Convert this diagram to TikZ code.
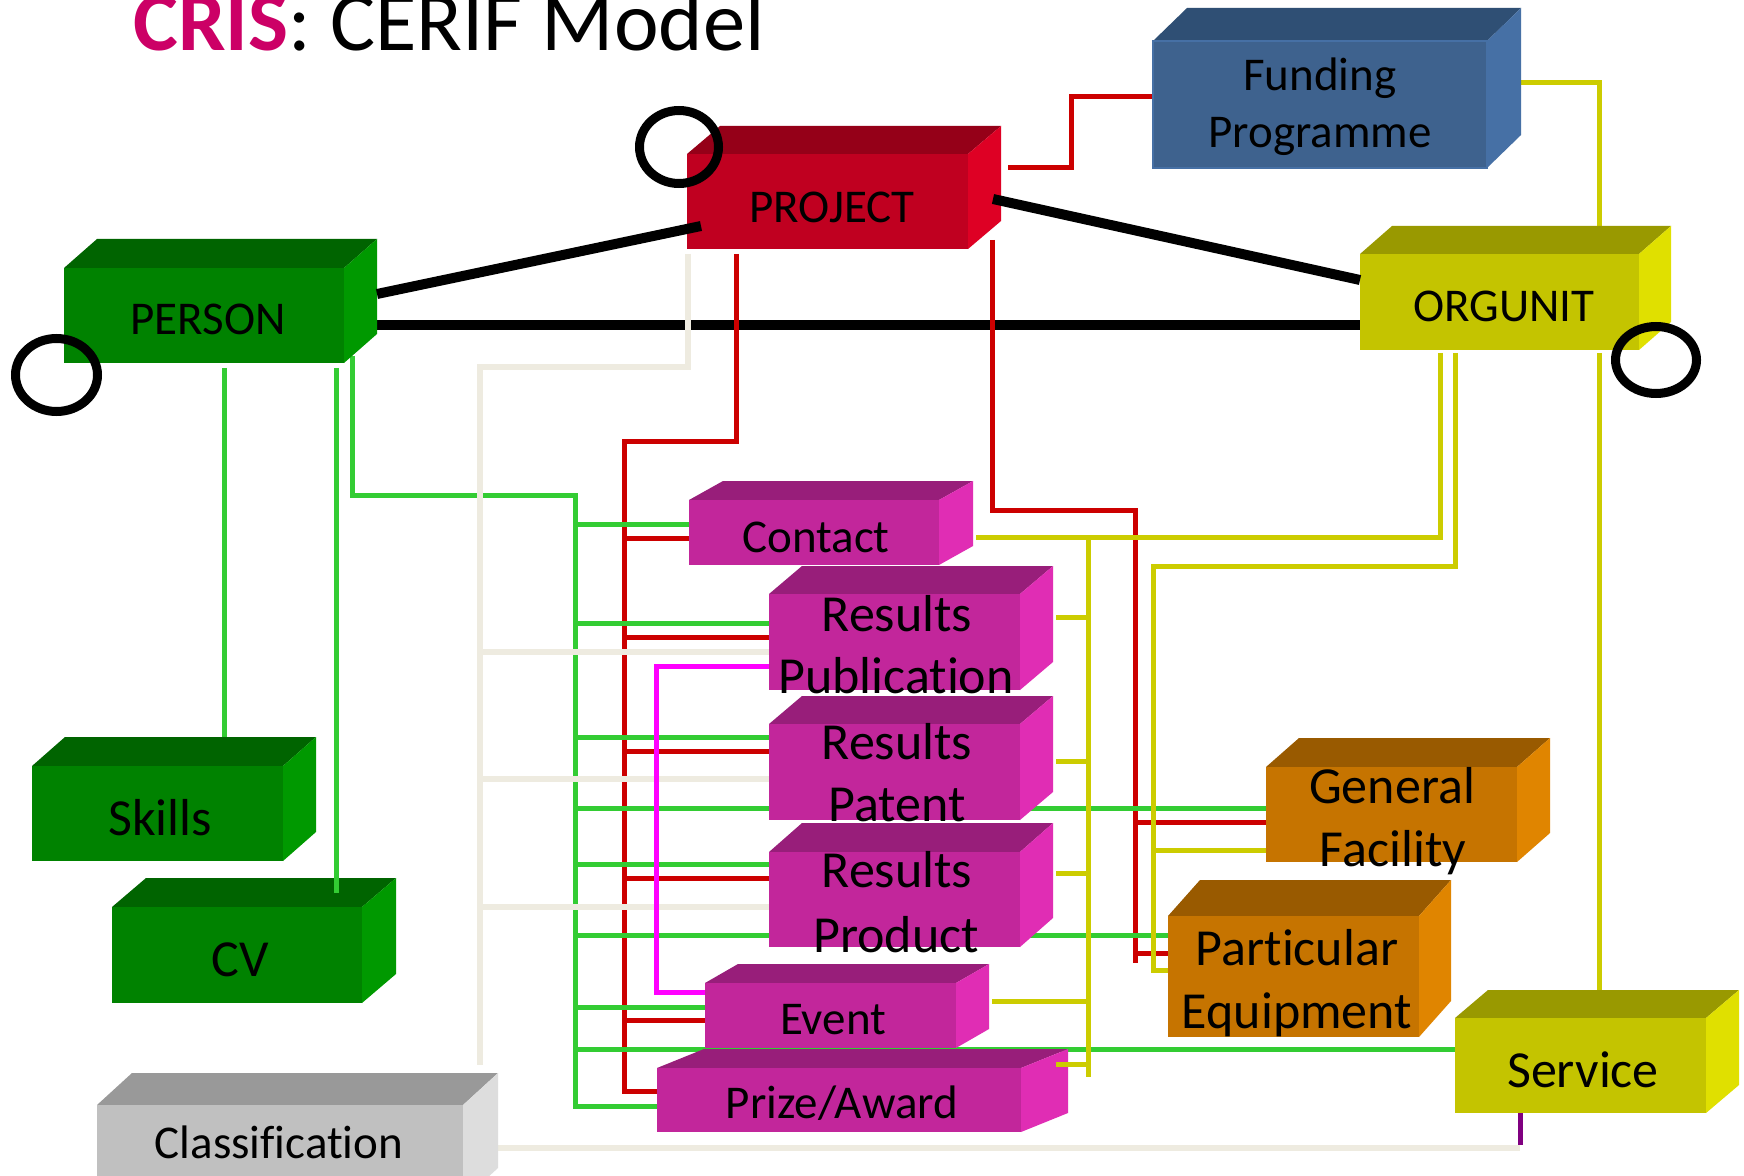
\documentclass[tikz,border=0pt]{standalone}
\usepackage{fontspec}
\setmainfont{Carlito}[Ligatures=NoCommon]
\usetikzlibrary{fit}
\definecolor{crisc}{RGB}{204,0,102}
\definecolor{projF}{RGB}{192,0,32}\definecolor{projT}{RGB}{149,0,24}\definecolor{projS}{RGB}{222,0,36}
\definecolor{grnF}{RGB}{0,130,0}\definecolor{grnT}{RGB}{0,100,0}\definecolor{grnS}{RGB}{0,153,0}
\definecolor{yelF}{RGB}{196,196,0}\definecolor{yelT}{RGB}{153,153,0}\definecolor{yelS}{RGB}{224,224,0}
\definecolor{funF}{RGB}{62,98,142}\definecolor{funT}{RGB}{47,79,116}\definecolor{funS}{RGB}{70,112,165}
\definecolor{magF}{RGB}{194,38,155}\definecolor{magT}{RGB}{152,30,122}\definecolor{magS}{RGB}{224,45,180}
\definecolor{orgF}{RGB}{198,116,0}\definecolor{orgT}{RGB}{153,90,0}\definecolor{orgS}{RGB}{224,133,0}
\definecolor{gryF}{RGB}{192,192,192}\definecolor{gryT}{RGB}{153,153,153}\definecolor{gryS}{RGB}{221,221,221}
\definecolor{lred}{RGB}{204,0,0}
\definecolor{lgreen}{RGB}{51,204,51}
\definecolor{lbeige}{RGB}{238,235,224}
\definecolor{lyellow}{RGB}{204,204,0}
\definecolor{lmag}{RGB}{255,0,255}
\definecolor{lpurple}{RGB}{128,0,128}
% #1 name, #2 colour prefix, #3 x1, #4 y1, #5 x2, #6 y2, #7 dx, #8 dy
\newcommand\cuboid[8]{%
  \fill[#2T] (#3,#4) -- (#3+#7,#4-#8) -- (#5+#7,#4-#8) -- (#5,#4) -- cycle;
  \fill[#2S] (#5,#4) -- (#5+#7,#4-#8) -- (#5+#7,#6-#8) -- (#5,#6) -- cycle;
  \fill[#2F] (#3,#4) rectangle (#5,#6);
  \node[fit={(#3,#4) (#5,#6)}, inner sep=0pt, outer sep=0pt] (#1) {};
}
\begin{document}
\begin{tikzpicture}[x=0.5pt,y=-0.5pt,
  lbl/.style={anchor=base, inner sep=0pt, font=\fontsize{23.5}{28}\selectfont},
  lblb/.style={anchor=base, inner sep=0pt, font=\fontsize{26}{31}\selectfont},
  rl/.style={draw=lred, line width=2.5pt},
  gl/.style={draw=lgreen, line width=2.5pt},
  bl/.style={draw=lbeige, line width=3pt},
  yl/.style={draw=lyellow, line width=2.5pt},
  ml/.style={draw=lmag, line width=2.5pt},
  pl/.style={draw=lpurple, line width=2.5pt},
  kl/.style={draw=black, line width=5pt},
  circ/.style={draw=black, line width=4.5pt}]
\useasboundingbox (0,0) rectangle (1744,1176);
\fill[white] (0,0) rectangle (1744,1176);

% title
\node[anchor=base west, inner sep=0pt, font=\fontsize{42.3}{50}\selectfont] (title) at (133,51)
  {\textcolor{crisc}{\bfseries CRIS}: CERIF Model};

% black PERSON -- ORGUNIT
\draw[kl] (377,325) -- (1360,325);

% red connectors
\draw[rl] (1008,168) -- (1071,168) -- (1071,97) -- (1153,97);
\draw[rl] (992,240) -- (992,510) -- (1135,510) -- (1135,963);
\draw[rl] (1135,822) -- (1266,822);
\draw[rl] (1135,953) -- (1168,953);
\draw[rl] (736,254) -- (736,441) -- (624,441) -- (624,1091) -- (657,1091);
\draw[rl] (624,538) -- (689,538);
\draw[rl] (624,637) -- (769,637);
\draw[rl] (624,751) -- (769,751);
\draw[rl] (624,878) -- (769,878);
\draw[rl] (624,1020) -- (705,1020);

% green connectors
\draw[gl] (224,368) -- (224,737);
\draw[gl] (352,356) -- (352,495) -- (575,495) -- (575,1106) -- (657,1106);
\draw[gl] (575,524) -- (689,524);
\draw[gl] (575,623) -- (769,623);
\draw[gl] (575,737) -- (769,737);
\draw[gl] (575,808) -- (1266,808);
\draw[gl] (575,864) -- (769,864);
\draw[gl] (575,935) -- (1168,935);
\draw[gl] (575,1007) -- (705,1007);
\draw[gl] (575,1049) -- (1455,1049);

% beige connectors
\draw[bl] (688,254) -- (688,367) -- (480,367) -- (480,1065);
\draw[bl] (480,652) -- (769,652);
\draw[bl] (480,779) -- (769,779);
\draw[bl] (480,907) -- (769,907);
\draw[bl] (498,1148) -- (1520,1148);
\draw[pl] (1520,1113) -- (1520,1145);

% magenta connector
\draw[ml] (769,666) -- (656,666) -- (656,992) -- (705,992);

% yellow connectors
\draw[yl] (1521,83) -- (1599,83) -- (1599,226);
\draw[yl] (1440,353) -- (1440,537) -- (976,537);
\draw[yl] (1088,537) -- (1088,1077);
\draw[yl] (1088,617) -- (1056,617);
\draw[yl] (1088,761) -- (1056,761);
\draw[yl] (1088,873) -- (1056,873);
\draw[yl] (1088,1001) -- (992,1001);
\draw[yl] (1455,353) -- (1455,566) -- (1153,566) -- (1153,970) -- (1168,970);
\draw[yl] (1153,850) -- (1266,850);
\draw[yl] (1599,353) -- (1599,992);

% boxes
\cuboid{person}{grn}{64}{268}{344}{363}{33}{29}
\node[lbl] (t-person) at (208,335) {PERSON};
\cuboid{project}{proj}{687}{154}{968}{249}{33}{28}
\node[lbl] (t-project) at (832,223) {PROJECT};
\cuboid{orgunit}{yel}{1360}{254}{1639}{350}{32}{28}
\node[lbl] (t-orgunit) at (1504,322) {ORGUNIT};
\cuboid{funding}{fun}{1153}{41}{1487}{168}{34}{33}
\draw[funS, line width=0.6pt] (1153,41) rectangle (1487,168);
\node[lbl] (t-fund1) at (1320,91) {Funding};
\node[lbl] (t-fund2) at (1320,148) {Programme};
\cuboid{contact}{mag}{689}{500}{939}{565}{34}{19}
\node[lbl] (t-contact) at (816,552) {Contact};
\cuboid{respub}{mag}{769}{594}{1020}{690}{33}{28}
\node[lblb] (t-pub1) at (897,631) {Results};
\node[lblb] (t-pub2) at (896,693) {Publication};
\cuboid{respat}{mag}{769}{724}{1020}{820}{33}{28}
\node[lblb] (t-pat1) at (897,759) {Results};
\node[lblb] (t-pat2) at (897,821) {Patent};
\cuboid{resprod}{mag}{769}{852}{1020}{947}{33}{29}
\node[lblb] (t-prod1) at (897,887) {Results};
\node[lblb] (t-prod2) at (896,952) {Product};
\cuboid{event}{mag}{705}{983}{956}{1048}{33}{19}
\node[lbl] (t-event) at (833,1034) {Event};
\cuboid{prize}{mag}{657}{1068}{1021}{1132}{47}{19}
\node[lbl] (t-prize) at (842,1118) {Prize/Award};
\cuboid{genfac}{org}{1266}{767}{1517}{862}{33}{29}
\node[lblb] (t-gf1) at (1392,803) {General};
\node[lblb] (t-gf2) at (1393,866) {Facility};
\cuboid{parteq}{org}{1168}{916}{1419}{1037}{32}{36}
\node[lblb] (t-pe1) at (1297,965) {Particular};
\node[lblb] (t-pe2) at (1297,1028) {Equipment};
\cuboid{service}{yel}{1455}{1018}{1706}{1113}{33}{28}
\node[lblb] (t-service) at (1583,1087) {Service};
\cuboid{skills}{grn}{32}{766}{283}{861}{33}{29}
\node[lblb] (t-skills) at (160,835) {Skills};
\cuboid{cv}{grn}{112}{907}{362}{1003}{34}{29}
\node[lblb] (t-cv) at (240,976) {CV};
\cuboid{classif}{gry}{97}{1105}{463}{1200}{35}{32}
\node[lbl] (t-classif) at (279,1158) {Classification};

% connectors drawn over boxes
\draw[gl] (336,368) -- (336,893);
\draw[yl] (1088,1064) -- (1056,1064);

% black connectors
\draw[kl] (377,294) -- (701,226);
\draw[kl] (993,199) -- (1360,280);

% circles
\draw[circ] (679,147) ellipse [x radius=39.5, y radius=36.5];
\draw[circ] (56.5,375) ellipse [x radius=41, y radius=36.5];
\draw[circ] (1656,360) ellipse [x radius=40.5, y radius=33.5];
\end{tikzpicture}
\end{document}
